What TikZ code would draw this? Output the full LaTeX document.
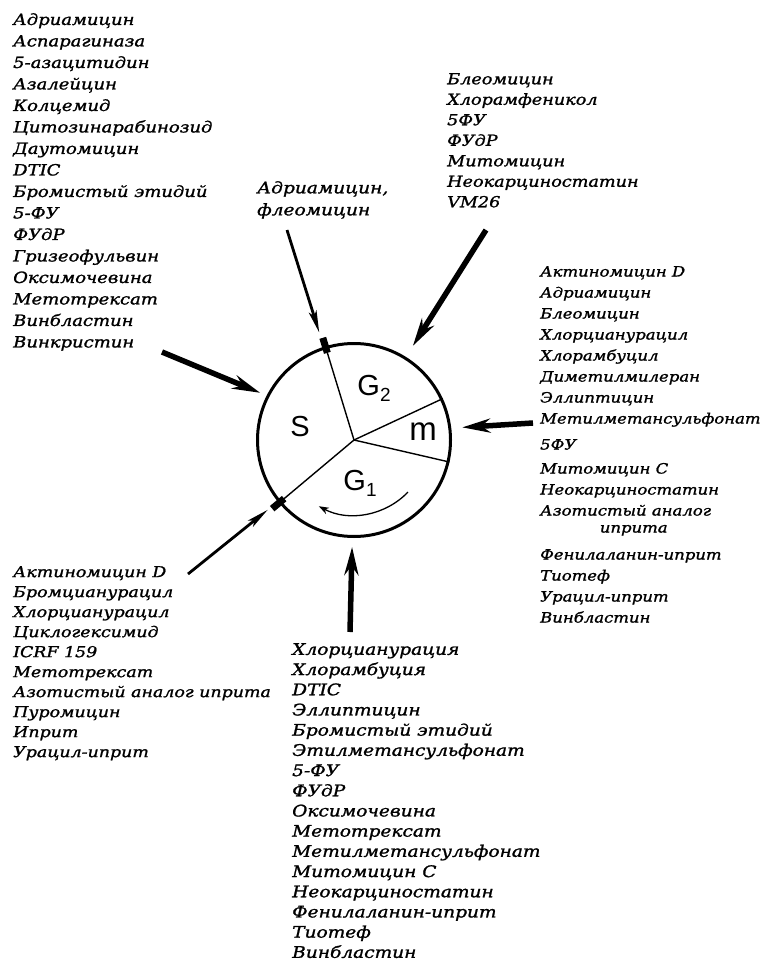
\documentclass[tikz,border=0pt]{standalone}
\usepackage{fontspec}
\setmainfont{DejaVu Serif}[FakeStretch=1.16, FakeBold=1.3]
\newfontfamily\phasefont{Liberation Sans}
\usetikzlibrary{arrows.meta,calc}
\newcommand{\lowidx}[1]{\raisebox{-0.2em}{\fontsize{19}{19}\selectfont #1}}
\tikzset{
  cellcircle/.style={
    circle, draw=black, line width=3pt,
    minimum size=193pt, inner sep=0pt
  },
  sector/.style={draw=black, line width=1.4pt},
  blockmark/.style={draw=black, line width=7pt},
  phase/.style={font=\phasefont\fontsize{29}{29}\selectfont, inner sep=0pt},
  druglist/.style 2 args={
    anchor=north west, inner sep=0pt, align=left,
    font=\itshape\fontsize{#1}{#2}\selectfont
  },
  bigarrow/.style={
    -{Stealth[length=28pt, width=14pt, inset=9pt]}, line width=5.5pt
  },
  thinarrow/.style={
    -{Stealth[length=22pt, width=8pt, inset=5pt]}, line width=2.8pt
  },
  cyclearrow/.style={
    -{Stealth[length=10pt, width=7pt, inset=3pt]}, line width=1.3pt
  },
}
\begin{document}
\begin{tikzpicture}[x=1pt,y=1pt]
  \useasboundingbox (0,0) rectangle (763,-965);

  % Cell cycle
  \node[cellcircle] (cell) at (354,-440) {};
  \foreach \a in {107.5,25.5,347.6,220}
    \draw[sector] (cell.center) -- (cell.\a);
  \foreach \a in {107.5,220}
    \draw[blockmark] ($(cell.center)!0.93!(cell.\a)$) -- ($(cell.center)!1.09!(cell.\a)$);

  \node[phase] (phS) at (300,-427) {S};
  \node[phase] (phG2) at (374,-388) {G\lowidx{2}};
  \node[phase, font=\phasefont\fontsize{33}{33}\selectfont] (phM) at (423,-432) {m};
  \node[phase] (phG1) at (360,-483) {G\lowidx{1}};
  \draw[cyclearrow] ($(cell.center)+(-44:75)$) arc[start angle=-44, end angle=-118, radius=75];

  % Drug lists
  \node[druglist={15.5}{21.5}] (listS) at (13,-13) {Адриамицин\\Аспарагиназа\\5-азацитидин\\Азалейцин\\Колцемид\\Цитозинарабинозид\\Даутомицин\\DTIC\\Бромистый этидий\\5-ФУ\\ФУдР\\Гризеофульвин\\Оксимочевина\\Метотрексат\\Винбластин\\Винкристин};
  \node[druglist={16}{22}] (listSG) at (257,-181) {Адриамицин,\\флеомицин};
  \node[druglist={15.2}{20.5}] (listG2) at (447,-73) {Блеомицин\\Хлорамфеникол\\5ФУ\\ФУдР\\Митомицин\\Неокарциностатин\\VM26};
  \node[druglist={14.2}{21}] (listM) at (540,-266) {Актиномицин D\\Адриамицин\\Блеомицин\\Хлорцианурацил\\Хлорамбуцил\\Диметилмилеран\\Эллиптицин\\Метилметансульфонат\\[5pt]5ФУ\\[3pt]Митомицин С\\Неокарциностатин\\Азотистый аналог\\[-4pt]\hspace*{4.2em}иприта\\[6pt]Фенилаланин-иприт\\Тиотеф\\Урацил-иприт\\Винбластин};
  \node[druglist={15}{20}] (listG1S) at (13,-566) {Актиномицин D\\Бромцианурацил\\Хлорцианурацил\\Циклогексимид\\ICRF 159\\Метотрексат\\Азотистый аналог иприта\\Пуромицин\\Иприт\\Урацил-иприт};
  \node[druglist={16}{20.2}] (listG1) at (292,-643) {Хлорцианурация\\Хлорамбуция\\DTIC\\Эллиптицин\\Бромистый этидий\\Этилметансульфонат\\5-ФУ\\ФУдР\\Оксимочевина\\Метотрексат\\Метилметансульфонат\\Митомицин С\\Неокарциностатин\\Фенилаланин-иприт\\Тиотеф\\Винбластин};

  % Arrow tails
  \coordinate (tSG) at (287,-230);
  \coordinate (tG2) at (486,-230);
  \coordinate (tS) at (162,-352);
  \coordinate (tM) at (533,-423);
  \coordinate (tG1) at (350,-632);
  \coordinate (tG1S) at (188,-574);

  \draw[thinarrow, shorten >=15pt] (tSG) -- (cell.108.6);
  \draw[bigarrow, shorten >=13pt] (tG2) -- (cell.58.6);
  \draw[bigarrow, shorten >=7pt] (tS) -- (cell.153);
  \draw[bigarrow, shorten >=11pt] (tM) -- (cell.7);
  \draw[bigarrow, shorten >=9pt] (tG1) -- (cell.269.5);
  \draw[thinarrow, shorten >=13pt] (tG1S) -- (cell.219);
\end{tikzpicture}
\end{document}
